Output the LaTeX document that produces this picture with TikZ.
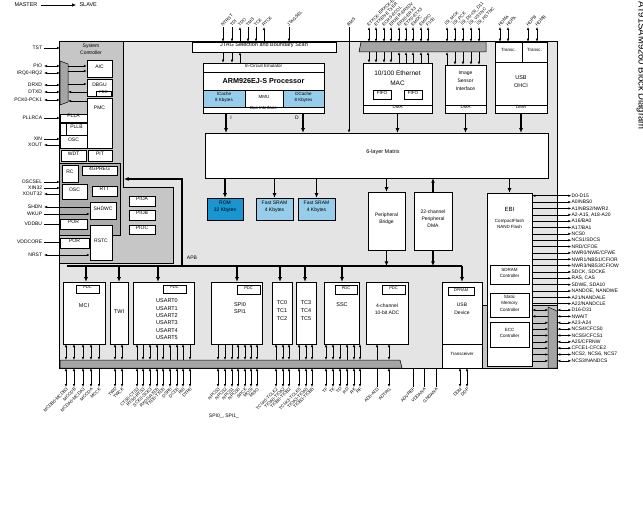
\documentclass[tikz,border=0pt]{standalone}
\usepackage{fontspec}
\setmainfont{Liberation Sans}
\usetikzlibrary{arrows.meta, positioning, fit, calc}
\definecolor{cChip}{RGB}{228,228,228}
\definecolor{cSysc}{RGB}{198,198,198}
\definecolor{cBkup}{RGB}{172,172,172}
\definecolor{cBar}{RGB}{165,165,165}
\definecolor{cRom}{RGB}{25,150,210}
\definecolor{cRam}{RGB}{150,205,235}
\newcommand{\fsz}[2]{\fontsize{#1}{#2}\selectfont}
\tikzset{
	every node/.append style={align=center},
	blk/.style ={draw=black, fill=white, line width=0.5pt, inner sep=0pt, align=center},
	pdc/.style ={blk, font=\fsz{4}{5}},
	arrR/.style={-{Latex[length=3pt,width=2.4pt]}, line width=0.5pt},
	arrL/.style={{Latex[length=3pt,width=2.4pt]}-, line width=0.5pt},
	arrB/.style={{Latex[length=3pt,width=2.4pt]}-{Latex[length=3pt,width=2.4pt]}, line width=0.5pt},
	arrN/.style={line width=0.5pt},
	bus/.style ={-{Latex[length=4.5pt,width=4pt]}, line width=1.2pt},
	% pin labels
	pinlbl/.style={font=\fsz{4.4}{5}, inner sep=0.2pt},
	toplbl/.style={pinlbl, rotate=45, anchor=south west},
	botlbl/.style={pinlbl, rotate=45, anchor=north east},
	lftlbl/.style={pinlbl, font=\fsz{5}{6}, anchor=east},
	rgtlbl/.style={pinlbl, font=\fsz{5}{6}, anchor=west},
}

\begin{document}
\begin{tikzpicture}[x=1pt, y=-1pt, font=\fsz{5}{7}]
\useasboundingbox (0,0) rectangle (643,505);

% legend and title
\node[font=\fsz{5.5}{6}] (master) at (26,5) {MASTER};
\node[font=\fsz{5.5}{6}, anchor=west] (slave) at (76,5) {SLAVE};
\draw[-{Latex[length=4pt,width=3.5pt]}, line width=0.6pt] (master) -- (slave);
\node[rotate=-90, anchor=south west, font=\fsz{9.5}{10}] (title) at (633,-2) {AT91SAM9260 Block Diagram};

% chip outline and grey domains
\node[blk, fill=cChip, line width=0.6pt, fit={(59,41)(557,368)}] (chip) {};
\filldraw[fill=cSysc, line width=0.5pt] (59,41) -- (123,41) -- (123,187) -- (173,187) -- (173,263) -- (59,263) -- cycle;
\node[blk, fill=cBkup, fit={(59,163)(120,235)}] (bkup) {};
\node (syslbl) at (91,49.5) {System\\Controller};
\filldraw[fill=cBar, line width=0.5pt] (60,61) -- (68,64) -- (68,102) -- (60,105) -- cycle;
\filldraw[fill=cSysc, line width=0.5pt] (482,305) rectangle (557,368);
\filldraw[fill=cBar, line width=0.5pt] (548,307) -- (557,311) -- (557,368) -- (548,368) -- cycle;
\filldraw[fill=cBar, line width=0.5pt] (60,360) -- (400,360) -- (402,368) -- (60,368) -- cycle;
\filldraw[fill=cBar, line width=0.5pt] (361,42) -- (486,42) -- (486,52) -- (359,52) -- cycle;

% system controller
\node[blk, fit={(87,60)(112,77)}] (aic) {AIC};
\node[blk, fit={(87,79)(112,96)}] (dbgu) {};
\node (dbgulbl) at (99.5,85) {DBGU};
\node[pdc, fit={(96,91)(111,96)}] (dbgupdc) {PDC};
\node[blk, fit={(87,98)(112,148)}] (pmc) {};
\node (pmclbl) at (99.5,108) {PMC};
\node[blk, fit={(60,114)(87,122)}] (plla) {PLLA};
\node[blk, fit={(66,123)(87,135)}] (pllb) {PLLB};
\node[blk, fit={(60,123)(66,135)}] (plldiv) {};
\node[blk, fit={(60,135)(87,148)}] (osc) {OSC};
\node[blk, fit={(61,150)(86,161)}] (wdt) {WDT};
\node[blk, fit={(88,150)(112,161)}] (pit) {PIT};
\node[blk, fit={(62,165)(78,182)}] (rc) {RC};
\node[blk, fit={(82,166)(117,175)}] (gpreg) {4GPREG};
\node[blk, fit={(62,184)(87,199)}] (osc32) {OSC};
\node[blk, fit={(92,186)(117,196)}] (rtt) {RTT};
\node[blk, fit={(90,202)(116,219)}] (shdwc) {SHDWC};
\node[blk, fit={(60,219)(87,229)}] (porbu) {POR};
\node[blk, fit={(90,225)(112,260)}] (rstc) {RSTC};
\node[blk, fit={(60,238)(89,248)}] (porcore) {POR};
\node[blk, fit={(129,196)(155,206)}] (pioa) {PIOA};
\node[blk, fit={(129,210)(155,220)}] (piob) {PIOB};
\node[blk, fit={(129,225)(155,234)}] (pioc) {PIOC};

% left pins
\foreach \y/\sty/\lbl in {48/arrR/TST, 66/arrB/PIO, 73/arrB/IRQ0-IRQ2, 85/arrB/DRXD, 92/arrB/DTXD, 100/arrB/PCK0-PCK1,
	118/arrR/PLLRCA, 139/arrR/XIN, 145/arrL/XOUT, 182/arrR/OSCSEL, 188/arrR/XIN32, 194/arrL/XOUT32,
	224/arrN/VDDBU, 242/arrN/VDDCORE}{
	\coordinate (lp\y) at (44,\y);
	\draw[\sty] (lp\y) -- (60,\y);
	\node[lftlbl, left=1.5pt of lp\y] (ll\y) {\lbl};
}
\foreach \y/\sty/\n/\lbl in {207/arrL/shdwc/SHDN, 214/arrR/shdwc/WKUP, 255/arrB/rstc/NRST}{
	\coordinate (lp\y) at (44,\y);
	\draw[\sty] (lp\y) -- (\n.west |- 0,\y);
	\node[lftlbl, left=1.5pt of lp\y] (ll\y) {\lbl};
}
\draw[arrR] (68,66) -- (aic.west |- 0,66);
\draw[arrR] (68,71) -- (aic.west |- 0,71);
\draw[arrR] (68,84) -- (dbgu.west |- 0,84);
\draw[arrL] (68,92) -- (dbgu.west |- 0,92);
\draw[arrL] (68,101) -- (pmc.west |- 0,101);

% JTAG and processor
\node[blk, font=\fsz{5.5}{6}, fit={(192,42)(336,52)}] (jtag) {JTAG Selection and Boundary Scan};
\node[blk, fit={(203,63)(324,113)}] (arm) {};
\node[blk, font=\fsz{4.5}{5}, fit={(203,63)(324,72)}] (ice) {In-Circuit Emulator};
\node[font=\bfseries\fsz{7.2}{8}] (armlbl) at (263.5,81) {ARM926EJ-S Processor};
\node[blk, fill=cRam, font=\fsz{4.5}{6}, fit={(203,90)(245,107)}] (icache) {ICache\\8 Kbytes};
\node[blk, font=\fsz{4.5}{6}, fit={(245,90)(283,107)}] (mmu) {MMU};
\node[blk, fill=cRam, font=\fsz{4.5}{6}, fit={(283,90)(324,107)}] (dcache) {DCache\\8 Kbytes};
\node[blk, font=\fsz{4.5}{5}, fit={(203,107)(324,113)}] (busif) {Bus Interface};
\foreach \x/\sty/\lbl in {223/arrR/NTRST, 232/arrR/TDI, 240/arrL/TDO, 248/arrR/TMS, 256/arrR/TCK, 264/arrL/RTCK, 289/arrR/JTAGSEL}{
	\coordinate (jp\x) at (\x,27);
	\draw[\sty] (jp\x) -- (\x,0 |- jtag.north);
	\node[toplbl] (jl\x) at (jp\x) {\lbl};
}
\foreach \x/\sty in {223/arrR, 232/arrR, 240/arrL}
	\draw[\sty] (\x,0 |- jtag.south) -- (\x,0 |- arm.north);
\coordinate (bmsp) at (349,27);
\node[toplbl] (bmsl) at (bmsp) {BMS};

% EMAC, ISI, USB host
\node[blk, fit={(363,63)(432,113)}] (emac) {};
\node[font=\fsz{6.5}{10}] (emaclbl) at (397.5,78) {10/100 Ethernet\\MAC};
\node[blk, font=\fsz{4.5}{5}, fit={(373,90)(391,99)}] (fifoa) {FIFO};
\node[blk, font=\fsz{4.5}{5}, fit={(404,90)(422,99)}] (fifob) {FIFO};
\node[blk, font=\fsz{4.5}{5}, fit={(363,105)(432,113)}] (emacdma) {DMA};
\node[blk, fit={(445,65)(486,113)}] (isi) {};
\node[font=\fsz{5}{8}] (isilbl) at (465.5,81) {Image\\Sensor\\Interface};
\node[blk, font=\fsz{4.5}{5}, fit={(445,105)(486,113)}] (isidma) {DMA};
\node[blk, fit={(495,42)(547,113)}] (ohci) {};
\node[blk, font=\fsz{4.5}{5}, fit={(495,42)(522,62)}] (transca) {Transc.};
\node[blk, font=\fsz{4.5}{5}, fit={(522,42)(547,62)}] (transcb) {Transc.};
\node[font=\fsz{5.5}{8}] (ohcilbl) at (521,82) {USB\\OHCI};
\node[blk, font=\fsz{4.5}{5}, fit={(495,105)(547,113)}] (ohcidma) {DMA};
\foreach \x/\sty/\lbl in {369/arrR/ETXCK-ERXCK-EREFCK, 376/arrR/ETXEN-ETXER, 384/arrR/ECRS-ECOL, 391/arrR/ERXER-ERXDV,
	399/arrL/ERX0-ERX3, 406/arrL/ETX0-ETX3, 413/arrL/EMDC, 421/arrL/EMDIO, 428/arrL/F100}{
	\coordinate (ep\x) at (\x,27);
	\draw[arrB] (ep\x) -- (\x,42);
	\draw[\sty] (\x,52) -- (\x,0 |- emac.north);
	\node[toplbl] (el\x) at (ep\x) {\lbl};
}
\foreach \x/\sty/\lbl in {447/arrL/ISI\_MCK, 455/arrR/ISI\_PCK, 463/arrR/ISI\_D0-ISI\_D11, 471/arrR/ISI\_VSYNC, 479/arrR/ISI\_HSYNC}{
	\coordinate (ip\x) at (\x,27);
	\draw[arrB] (ip\x) -- (\x,42);
	\draw[\sty] (\x,52) -- (\x,0 |- isi.north);
	\node[toplbl] (il\x) at (ip\x) {\lbl};
}
\foreach \x/\lbl in {500/HDMA, 508/HDPA, 528/HDPB, 537/HDMB}{
	\coordinate (hp\x) at (\x,27);
	\draw[arrB] (hp\x) -- (\x,0 |- ohci.north);
	\node[toplbl] (hl\x) at (hp\x) {\lbl};
}

% matrix and memories
\node[blk, fit={(205,133)(548,178)}] (matrix) {};
\node[font=\fsz{5.5}{6}] (mtxlbl) at (383,152) {6-layer Matrix};
\draw[arrR] (bmsp) -- (bmsp |- matrix.north);
\draw[bus] (226,0 |- arm.south) -- (226,0 |- matrix.north);
\draw[bus] (303,0 |- arm.south) -- (303,0 |- matrix.north);
\node (ilbl) at (231,118) {I};
\node (dlbl) at (297,118) {D};
\foreach \n in {emacdma, isidma, ohcidma}
	\draw[bus] (\n.south) -- (\n.south |- matrix.north);
\node[blk, fill=cRom, fit={(207,198)(243,220)}] (rom) {ROM\\32 Kbytes};
\node[blk, fill=cRam, fit={(256,198)(293,220)}] (srama) {Fast SRAM\\4 Kbytes};
\node[blk, fill=cRam, fit={(298,198)(335,220)}] (sramb) {Fast SRAM\\4 Kbytes};
\node[blk, fit={(368,192)(405,250)}] (bridge) {Peripheral\\Bridge};
\node[blk, fit={(414,192)(452,250)}] (pdma) {22-channel\\Peripheral\\DMA};
\foreach \n in {rom, srama, sramb, bridge}
	\draw[bus] (\n.north |- matrix.south) -- (\n.north);
\draw[bus] (pdma.north) -- (pdma.north |- matrix.south);

% APB
\coordinate (apbL) at (67,266);
\coordinate (apbR) at (462,266);
\draw[line width=1.5pt] (apbL) -- (apbR);
\draw[bus] (182,0 |- apbL) -- (182,179) -- (124,179);
\node (apblbl) at (192,258) {APB};
\draw[bus] (bridge.south) -- (bridge.south |- apbL);
\draw[bus] (pdma.south) -- (pdma.south |- apbL);

% peripherals
\node[blk, fit={(63,282)(105,344)}] (mci) {};
\node[pdc, fit={(76,285)(99,293)}] (mcipdc) {PDC};
\node[font=\fsz{5.5}{7}] (mcilbl) at (84,306) {MCI};
\node[blk, font=\fsz{5.5}{7}, fit={(110,282)(128,344)}] (twi) {TWI};
\node[blk, fit={(133,282)(194,344)}] (usart) {};
\node[pdc, fit={(163,285)(186,293)}] (usartpdc) {PDC};
\foreach \i in {0,...,5}
	\node[font=\fsz{5.5}{7}] (us\i) at (167,{301+7.3*\i}) {USART\i};
\node[blk, fit={(211,282)(262,344)}] (spi) {};
\node[pdc, fit={(237,285)(260,294)}] (spipdc) {PDC};
\node[font=\fsz{5.5}{7.5}] (spilbl) at (240,308) {SPI0\\SPI1};
\node[blk, fit={(272,282)(292,344)}] (tca) {};
\node[font=\fsz{5.5}{8}] (tcalbl) at (282,311) {TC0\\TC1\\TC2};
\node[blk, fit={(296,282)(316,344)}] (tcb) {};
\node[font=\fsz{5.5}{8}] (tcblbl) at (306,311) {TC3\\TC4\\TC5};
\node[blk, fit={(324,282)(359,344)}] (ssc) {};
\node[pdc, fit={(335,285)(357,294)}] (sscpdc) {PDC};
\node[font=\fsz{5.5}{7}] (ssclbl) at (342,305) {SSC};
\node[blk, fit={(366,282)(408,344)}] (adc) {};
\node[pdc, fit={(382,285)(405,294)}] (adcpdc) {PDC};
\node[font=\fsz{5}{7.5}] (adclbl) at (387,309) {4-channel\\10-bit ADC};
\node[blk, fit={(442,282)(482,368)}] (udp) {};
\node[pdc, fit={(448,287)(474,295)}] (dpram) {DPRAM};
\node[font=\fsz{5}{8}] (udplbl) at (462,309) {USB\\Device};
\node[blk, font=\fsz{4.5}{5}, fit={(442,344)(482,368)}] (udptrx) {Transceiver};
\foreach \n/\x in {mci/86, twi/119, usart/158, spi/237, tca/280, tcb/305, ssc/342}
	\draw[bus] (\x,0 |- apbL) -- (\x,0 |- \n.north);
\draw[bus] (udp.north |- apbR) -- (udp.north);

% bottom pins
\foreach \x/\din/\dout/\lbl in {66/arrB/arrB/MCDB0-MCDB3, 74/arrB/arrB/MCCDB, 83/arrB/arrB/MCDA0-MCDA3, 91/arrB/arrB/MCCDA, 99/arrR/arrR/MCCK,
	115/arrB/arrB/TWD, 122/arrB/arrB/TWCK,
	137/arrL/arrB/CTS0-CTS3, 143/arrR/arrB/RTS0-RTS3, 150/arrB/arrB/SCK0-SCK3, 157/arrL/arrB/RXD0-RXD5, 163/arrR/arrB/TXD0-TXD5,
	170/arrL/arrB/DSR0, 177/arrL/arrB/DCD0, 183/arrL/arrB/RI0, 190/arrR/arrB/DTR0,
	218/arrR/arrB/NPCS3, 225/arrR/arrB/NPCS2, 232/arrR/arrB/NPCS1, 238/arrB/arrB/NPCS0, 245/arrB/arrB/SPCK, 251/arrB/arrB/MOSI, 257/arrB/arrB/MISO,
	276/arrL/arrB/TCLK0-TCLK2, 283/arrB/arrB/TIOA0-TIOA2, 289/arrB/arrB/TIOB0-TIOB2,
	299/arrL/arrB/TCLK3-TCLK5, 306/arrB/arrB/TIOA3-TIOA5, 312/arrB/arrB/TIOB3-TIOB5,
	326/arrB/arrB/TF, 333/arrB/arrB/TK, 340/arrR/arrB/TD, 347/arrL/arrB/RD, 354/arrB/arrB/RK, 360/arrB/arrB/RF,
	377/arrL/arrN/AD0-AD3, 389/arrB/arrB/ADTRG}{
	\coordinate (bi\x) at (\x,344);
	\coordinate (bo\x) at (\x,360);
	\draw[\din] (bi\x) -- (bo\x);
	\coordinate (pa\x) at (\x,368);
	\coordinate (pb\x) at (\x,387);
	\draw[\dout] (pa\x) -- (pb\x);
	\node[botlbl] (bl\x) at (pb\x) {\lbl};
}
\foreach \x/\sty/\lbl in {413/arrN/ADVREF, 424/arrN/VDDANA, 436/arrN/GNDANA, 460/arrB/DDM, 467/arrB/DDP}{
	\coordinate (pa\x) at (\x,368);
	\coordinate (pb\x) at (\x,387);
	\draw[\sty] (pa\x) -- (pb\x);
	\node[botlbl] (bl\x) at (pb\x) {\lbl};
}
\node (spinote) at (224,416) {SPI0\_, SPI1\_};

% EBI
\node[blk, fit={(487,193)(532,366)}] (ebi) {};
\node[font=\fsz{6}{7}] (ebilbl) at (509.5,209) {EBI};
\node[font=\fsz{4.5}{6.5}] (cflbl) at (509.5,224) {CompactFlash\\NAND Flash};
\node[blk, font=\fsz{4.5}{6.5}, fit={(490,265)(529,284)}] (sdramc) {SDRAM\\Controller};
\node[blk, font=\fsz{4.5}{6.5}, fit={(490,293)(529,317)}] (smc) {Static\\Memory\\Controller};
\node[blk, font=\fsz{4.5}{6.5}, fit={(490,322)(529,347)}] (eccc) {ECC\\Controller};
\draw[bus] (ebi.north |- matrix.south) -- (ebi.north);
\foreach \lbl [count=\i from 0] in {D0-D15, A0/NBS0, A1/NBS2/NWR2, {A2-A15, A18-A20}, A16/BA0, A17/BA1, NCS0, NCS1/SDCS,
	NRD/CFOE, NWR0/NWE/CFWE, NWR1/NBS1/CFIOR, NWR3/NBS3/CFIOW, {SDCK, SDCKE}, {RAS, CAS}, {SDWE, SDA10},
	{NANDOE, NANDWE}, A21/NANDALE, A22/NANDCLE}{
	\coordinate (eo\i) at ($(ebi.north east)+(0,{3+6.35*\i})$);
	\coordinate (ep\i) at ($(eo\i)+(39,0)$);
	\ifnum\i=0 \draw[arrB] (eo\i) -- (ep\i); \else \draw[arrR] (eo\i) -- (ep\i); \fi
	\node[rgtlbl] (es\i) at (ep\i) {\lbl};
}
\foreach \sty/\lbl [count=\i from 18] in {arrB/D16-D31, arrL/NWAIT, arrR/A23-A24, arrR/{NCS4/CFCS0}, arrR/{NCS5/CFCS1},
	arrR/{A25/CFRNW}, arrR/CFCE1-CFCE2, arrR/{NCS2, NCS6, NCS7}, arrR/{NCS3/NANDCS}}{
	\coordinate (eo\i) at ($(ebi.north east)+(0,{3+6.35*\i})$);
	\coordinate (em\i) at ($(eo\i)+(16,0)$);
	\coordinate (en\i) at ($(eo\i)+(25,0)$);
	\coordinate (ep\i) at ($(eo\i)+(39,0)$);
	\draw[\sty] (eo\i) -- (em\i);
	\draw[arrB] (en\i) -- (ep\i);
	\node[rgtlbl] (es\i) at (ep\i) {\lbl};
}
\end{tikzpicture}
\end{document}
